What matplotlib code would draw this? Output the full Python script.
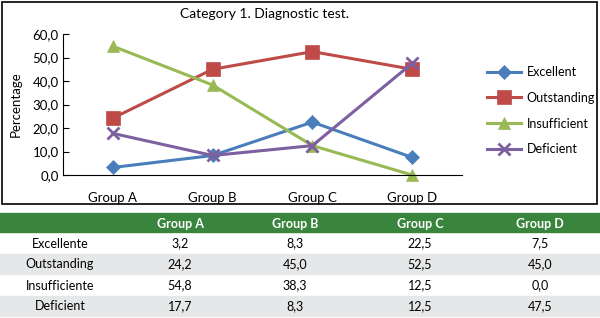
import matplotlib
matplotlib.use("Agg")
import matplotlib.pyplot as plt
from matplotlib.patches import Rectangle

plt.rcParams['font.family'] = ['Lato', 'DejaVu Sans']

groups = ['Group A', 'Group B', 'Group C', 'Group D']
series = ['Excellent', 'Outstanding', 'Insufficient', 'Deficient']
row_labels = ['Excellente', 'Outstanding', 'Insufficiente', 'Deficient']
excellent = [3.2, 8.3, 22.5, 7.5]
outstanding = [24.2, 45.0, 52.5, 45.0]
insufficient = [54.8, 38.3, 12.5, 0.0]
deficient = [17.7, 8.3, 12.5, 47.5]
values = [excellent, outstanding, insufficient, deficient]
colors = ['#4a7ebb', '#be4b48', '#98b954', '#7d60a0']
markers = ['D', 's', '^', 'x']
msizes = [7, 10, 9, 9]

W, H = 600, 318
fig = plt.figure(figsize=(W / 100, H / 100), dpi=100)


def fx(px):
    return px / W


def fy(py):
    return 1 - py / H


# outer frame around the chart
fig.patches.append(Rectangle((fx(2), fy(204)), fx(595), 202 / H, transform=fig.transFigure,
                             fill=False, edgecolor='black', linewidth=1.2))

ax = fig.add_axes([fx(63), fy(175), fx(462) - fx(63), fy(34) - fy(175)])
x = [i + 0.5 for i in range(len(groups))]
for name, vals, c, m, ms in zip(series, values, colors, markers, msizes):
    ax.plot(x, vals, color=c, marker=m, markersize=ms, linewidth=2.2, label=name,
            markeredgewidth=2 if m == 'x' else 0.5, clip_on=False)

ax.set_xlim(0, 4)
ax.set_ylim(0, 60)
ax.set_yticks(range(0, 61, 10))
ax.set_yticklabels([f'{v:.1f}'.replace('.', ',') for v in range(0, 61, 10)], fontsize=9.5)
ax.set_xticks(x)
ax.set_xticklabels(groups, fontsize=9.5)
ax.tick_params(axis='x', length=0, pad=12)
ax.tick_params(axis='y', direction='in', length=4, pad=3)
ax.spines['top'].set_visible(False)
ax.spines['right'].set_visible(False)
ax.set_ylabel('Percentage', fontsize=9.5, labelpad=8)
fig.text(fx(265), fy(14), 'Category 1. Diagnostic test.', ha='center', va='center', fontsize=10)

fig.legend(loc='upper left', bbox_to_anchor=(fx(482), fy(61)), frameon=False, fontsize=9,
           handlelength=2.7, handletextpad=0.45, labelspacing=1.1, borderaxespad=0)

# table below
tab = fig.add_axes([0, 0, 1, 1 - 210 / H])
tab.set_xlim(0, W)
tab.set_ylim(H, 210)
tab.axis('off')
col_centers = [60, 180, 295, 420, 540]
header_top, header_h, row_h = 213, 19, 21
tab.add_patch(Rectangle((0, header_top), W, header_h, color='#3a853d'))
for cx, g in zip(col_centers[1:], groups):
    tab.text(cx, header_top + header_h / 2 + 1, g, ha='center', va='center', color='white',
             fontsize=9, fontweight='bold')
for i, (lab, vals) in enumerate(zip(row_labels, values)):
    top = header_top + header_h + i * row_h
    if i % 2 == 1:
        tab.add_patch(Rectangle((0, top + 1), W, row_h - 1, color='#e6e7e8'))
    tab.text(col_centers[0], top + row_h / 2 + 1, lab, ha='center', va='center', fontsize=9)
    for cx, v in zip(col_centers[1:], vals):
        tab.text(cx, top + row_h / 2 + 1, f'{v:.1f}'.replace('.', ','), ha='center', va='center',
                 fontsize=9)

fig.savefig('out.png', dpi=100)
